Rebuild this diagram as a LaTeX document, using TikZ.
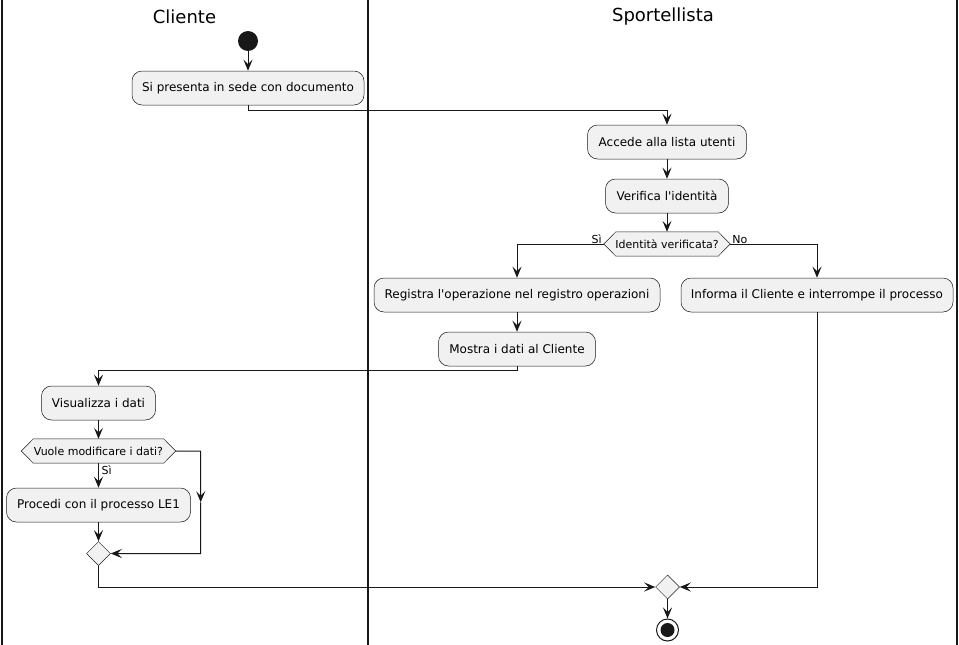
\documentclass[tikz,border=0pt]{standalone}
\usepackage{fontspec}
\setmainfont{DejaVu Sans}
\usetikzlibrary{arrows.meta,calc,shapes.geometric}
\definecolor{ln}{HTML}{181818}
\definecolor{bx}{HTML}{F1F1F1}
\begin{document}
\begin{tikzpicture}[x=1pt,y=-1pt,
  act/.style={draw=ln, fill=bx, line width=0.5pt, rounded corners=10pt,
    minimum height=34pt, inner xsep=0pt, font=\fontsize{12}{14}\selectfont},
  hex/.style={minimum height=24pt, inner xsep=0pt, inner ysep=0pt,
    font=\fontsize{11}{13}\selectfont},
  hexline/.style={draw=ln, fill=bx, line width=0.5pt},
  merge/.style={diamond, draw=ln, fill=bx, line width=0.5pt,
    minimum width=24pt, minimum height=24pt, inner sep=0pt},
  arr/.style={draw=ln, line width=1pt, -{Stealth[length=11pt,width=9pt,inset=4.5pt]}},
  lane/.style={draw=ln, line width=1.4pt},
  lbl/.style={font=\fontsize{11}{13}\selectfont, inner sep=1pt},
  title/.style={font=\fontsize{18}{21}\selectfont}]
\useasboundingbox (0,0) rectangle (959,645);

% lanes
\draw[lane] (2,0) -- (2,645);
\draw[lane] (368,0) -- (368,645);
\draw[lane] (957,0) -- (957,645);
\node[title] (t1) at (184.5,17) {Cliente};
\node[title] (t2) at (663,17) {Sportellista};

% nodes
\node[circle, fill=ln, minimum size=20pt, inner sep=0pt] (s) at (248,41) {};
\node[act, minimum width=232pt] (b1) at (248,88) {Si presenta in sede con documento};
\node[act, minimum width=159pt] (b2) at (667,142) {Accede alla lista utenti};
\node[act, minimum width=123pt] (b3) at (667,196) {Verifica l\textquotesingle identità};
\node[hex, minimum width=126pt] (d1) at (667,244) {};
\draw[hexline] (d1.west) -- ($(d1.north west)+(12,0)$) -- ($(d1.north east)+(-12,0)$)
  -- (d1.east) -- ($(d1.south east)+(-12,0)$) -- ($(d1.south west)+(12,0)$) -- cycle;
\node[hex] at (d1) {Identità verificata?};
\node[act, minimum width=286pt] (b4) at (517,295) {Registra l\textquotesingle operazione nel registro operazioni};
\node[act, minimum width=272pt] (b5) at (817,295) {Informa il Cliente e interrompe il processo};
\node[act, minimum width=157pt] (b6) at (517,349) {Mostra i dati al Cliente};
\node[act, minimum width=114pt] (b7) at (98.5,403) {Visualizza i dati};
\node[hex, minimum width=154pt] (d2) at (98.5,451) {};
\draw[hexline] (d2.west) -- ($(d2.north west)+(12,0)$) -- ($(d2.north east)+(-12,0)$)
  -- (d2.east) -- ($(d2.south east)+(-12,0)$) -- ($(d2.south west)+(12,0)$) -- cycle;
\node[hex] at (d2) {Vuole modificare i dati?};
\node[act, minimum width=184pt] (b8) at (98.5,505) {Procedi con il processo LE1};
\node[merge] (d3) at (98.5,553.5) {};
\node[merge] (d4) at (667.5,587) {};
\node[circle, draw=ln, line width=1pt, fill=white, minimum size=22pt, inner sep=0pt] (e) at (667.5,630) {};
\node[circle, fill=ln, minimum size=14pt, inner sep=0pt] (ei) at (e) {};

% labels
\node[lbl, anchor=base east] (l1) at ($(d1.west)+(-1,-1)$) {Sì};
\node[lbl, anchor=base west] (l2) at ($(d1.east)+(1,-1)$) {No};
\node[lbl, anchor=north west] (l3) at ($(d2.south)+(2,1)$) {Sì};

% connectors
\draw[arr] (s.south) -- (b1.north);
\draw[arr] (b1.south) -- ++(0,5) -| (b2.north);
\draw[arr] (b2.south) -- (b3.north);
\draw[arr] (b3.south) -- (d1.north);
\draw[arr] (d1.west) -| (b4.north);
\draw[arr] (d1.east) -| (b5.north);
\draw[arr] (b4.south) -- (b6.north);
\draw[arr] (b6.south) -- ++(0,4) -| (b7.north);
\draw[arr] (b7.south) -- (d2.north);
\draw[arr] (d2.south) -- (b8.north);
\draw[arr] (b8.south) -- (d3.north);
\coordinate (r1) at ($(d2.east)+(25,0)$);
\coordinate (r2) at (r1 |- d3.east);
\coordinate (rm) at ($(r1)!0.5!(r2)$);
\draw[arr] (d2.east) -- (r1) -- (rm);
\draw[arr] (rm) -- (r2) -- (d3.east);
\coordinate (q1) at (d3.south |- d4.west);
\draw[arr] (d3.south) -- (q1) -- (d4.west);
\draw[arr] (b5.south) |- (d4.east);
\draw[arr] (d4.south) -- (e.north);
\end{tikzpicture}
\end{document}
